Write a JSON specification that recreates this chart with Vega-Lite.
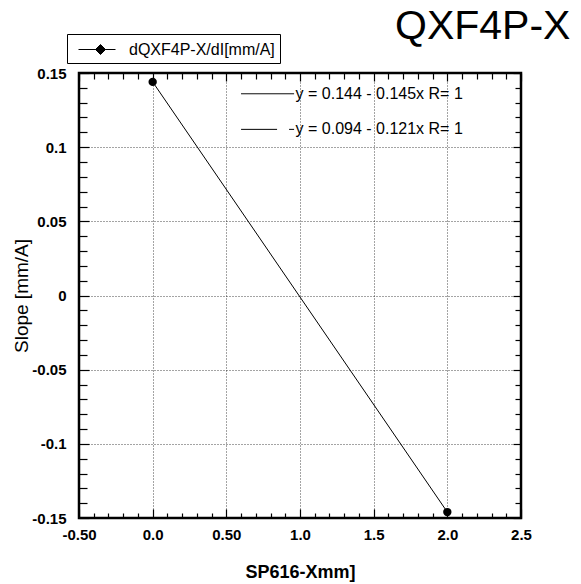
{
  "$schema": "https://vega.github.io/schema/vega-lite/v6.json",
  "width": 442,
  "height": 445,
  "autosize": {"type": "none"},
  "padding": {"left": 79, "top": 73, "right": 60, "bottom": 66},
  "background": "white",
  "title": {"text": "QXF4P-X", "anchor": "end", "dx": 39, "dy": 44, "offset": 30, "fontSize": 41, "font": "Liberation Sans", "fontWeight": "normal", "color": "black"},
  "config": {
    "font": "Liberation Sans",
    "view": {"stroke": "black", "strokeWidth": 2.5}
  },
  "datasets": {
    "main": [
      {"x": 0.0, "y": 0.144, "s": "dQXF4P-X/dI[mm/A]"},
      {"x": 2.0, "y": -0.146, "s": "dQXF4P-X/dI[mm/A]"}
    ],
    "fitlines": [
      {"x": 0.6, "x2": 0.96, "y": 0.136, "k": "solid"},
      {"x": 0.6, "x2": 0.96, "y": 0.112, "k": "dash"}
    ],
    "fittext": [
      {"x": 0.97, "y": 0.136, "t": "y = 0.144 - 0.145x  R= 1"},
      {"x": 0.97, "y": 0.112, "t": "y = 0.094 - 0.121x  R= 1"}
    ]
  },
  "resolve": {"axis": {"x": "independent", "y": "independent"}},
  "layer": [
    {
      "data": {"name": "main"},
      "mark": {"type": "line", "color": "black", "strokeWidth": 1, "point": {"filled": true, "size": 70, "color": "black"}},
      "encoding": {
        "x": {
          "field": "x", "type": "quantitative",
          "scale": {"domain": [-0.5, 2.5], "nice": false, "zero": false},
          "axis": {
            "orient": "bottom", "title": "SP616-Xmm]", "titleFontSize": 18, "titleFontWeight": "bold", "titlePadding": 17, "titleColor": "black",
            "values": [-0.5, -0.4, -0.3, -0.2, -0.1, 0, 0.1, 0.2, 0.3, 0.4, 0.5, 0.6, 0.7, 0.8, 0.9, 1.0, 1.1, 1.2, 1.3, 1.4, 1.5, 1.6, 1.7, 1.8, 1.9, 2.0, 2.1, 2.2, 2.3, 2.4, 2.5],
            "domain": false,
            "grid": true, "gridColor": "black", "gridDash": [1, 2], "gridWidth": 0.8,
            "gridOpacity": {"condition": {"test": "abs(round(datum.value*10))%5==0", "value": 0.9}, "value": 0},
            "ticks": true, "tickColor": "black", "tickWidth": 1.2,
            "tickSize": {"condition": {"test": "abs(round(datum.value*10))%5==0", "value": -9}, "value": -5},
            "labelOverlap": false, "labelFlush": false, "labelPadding": 18,
            "labelFontSize": 15, "labelFontWeight": "bold", "labelColor": "black",
            "labelExpr": "round(datum.value*10)==-5?'-0.50':round(datum.value*10)==0?'0.0':round(datum.value*10)==5?'0.50':round(datum.value*10)==10?'1.0':round(datum.value*10)==15?'1.5':round(datum.value*10)==20?'2.0':round(datum.value*10)==25?'2.5':''"
          }
        },
        "y": {
          "field": "y", "type": "quantitative",
          "scale": {"domain": [-0.15, 0.15], "nice": false, "zero": false},
          "axis": {
            "orient": "left", "title": "Slope [mm/A]", "titleFontSize": 19, "titleFontWeight": "normal", "titlePadding": 0, "titleColor": "black",
            "values": [-0.15, -0.14, -0.13, -0.12, -0.11, -0.1, -0.09, -0.08, -0.07, -0.06, -0.05, -0.04, -0.03, -0.02, -0.01, 0, 0.01, 0.02, 0.03, 0.04, 0.05, 0.06, 0.07, 0.08, 0.09, 0.1, 0.11, 0.12, 0.13, 0.14, 0.15],
            "domain": false,
            "grid": true, "gridColor": "black", "gridDash": [1, 2], "gridWidth": 0.8,
            "gridOpacity": {"condition": {"test": "abs(round(datum.value*100))%5==0", "value": 0.9}, "value": 0},
            "ticks": true, "tickColor": "black", "tickWidth": 1.2,
            "tickSize": {"condition": {"test": "abs(round(datum.value*100))%5==0", "value": -10}, "value": -8},
            "labelOverlap": false, "labelFlush": false, "labelPadding": 23,
            "labelFontSize": 15, "labelFontWeight": "bold", "labelColor": "black",
            "labelExpr": "round(datum.value*100)==15?'0.15':round(datum.value*100)==10?'0.1':round(datum.value*100)==5?'0.05':round(datum.value*100)==0?'0':round(datum.value*100)==-5?'-0.05':round(datum.value*100)==-10?'-0.1':round(datum.value*100)==-15?'-0.15':''"
          }
        },
        "color": {
          "field": "s", "type": "nominal",
          "scale": {"range": ["black"]},
          "legend": {
            "orient": "none", "legendX": -12, "legendY": -39, "title": null,
            "strokeColor": "black", "padding": 5, "fillColor": "white",
            "labelFontSize": 16, "labelColor": "black", "labelFont": "Liberation Sans", "labelOffset": 36,
            "symbolType": "M-0.4,0H3.3M1.8,-0.5L2.3,0L1.8,0.5L1.3,0Z",
            "symbolSize": 400, "symbolStrokeWidth": 1, "symbolFillColor": "black", "symbolStrokeColor": "black"
          }
        }
      }
    },
    {
      "data": {"name": "fitlines"},
      "mark": {"type": "rule", "color": "black", "strokeWidth": 1},
      "encoding": {
        "x": {
          "field": "x", "type": "quantitative",
          "axis": {
            "orient": "top", "title": null, "labels": false, "domain": false, "grid": false,
            "values": [-0.5, -0.4, -0.3, -0.2, -0.1, 0, 0.1, 0.2, 0.3, 0.4, 0.5, 0.6, 0.7, 0.8, 0.9, 1.0, 1.1, 1.2, 1.3, 1.4, 1.5, 1.6, 1.7, 1.8, 1.9, 2.0, 2.1, 2.2, 2.3, 2.4, 2.5],
            "tickColor": "black", "tickWidth": 1.2,
            "tickSize": {"condition": {"test": "abs(round(datum.value*10))%5==0", "value": -8}, "value": -6}
          }
        },
        "x2": {"field": "x2"},
        "y": {
          "field": "y", "type": "quantitative",
          "axis": {
            "orient": "right", "title": null, "labels": false, "domain": false, "grid": false,
            "values": [-0.15, -0.14, -0.13, -0.12, -0.11, -0.1, -0.09, -0.08, -0.07, -0.06, -0.05, -0.04, -0.03, -0.02, -0.01, 0, 0.01, 0.02, 0.03, 0.04, 0.05, 0.06, 0.07, 0.08, 0.09, 0.1, 0.11, 0.12, 0.13, 0.14, 0.15],
            "tickColor": "black", "tickWidth": 1.2,
            "tickSize": {"condition": {"test": "abs(round(datum.value*100))%5==0", "value": -8}, "value": -6}
          }
        },
        "strokeDash": {
          "field": "k", "type": "nominal",
          "scale": {"domain": ["solid", "dash"], "range": [[1, 0], [36, 12]]},
          "legend": null
        }
      }
    },
    {
      "data": {"name": "fittext"},
      "mark": {"type": "text", "align": "left", "baseline": "middle", "fontSize": 16, "color": "black", "fontWeight": "normal"},
      "encoding": {
        "x": {"field": "x", "type": "quantitative", "axis": null},
        "y": {"field": "y", "type": "quantitative", "axis": null},
        "text": {"field": "t"}
      }
    }
  ]
}
